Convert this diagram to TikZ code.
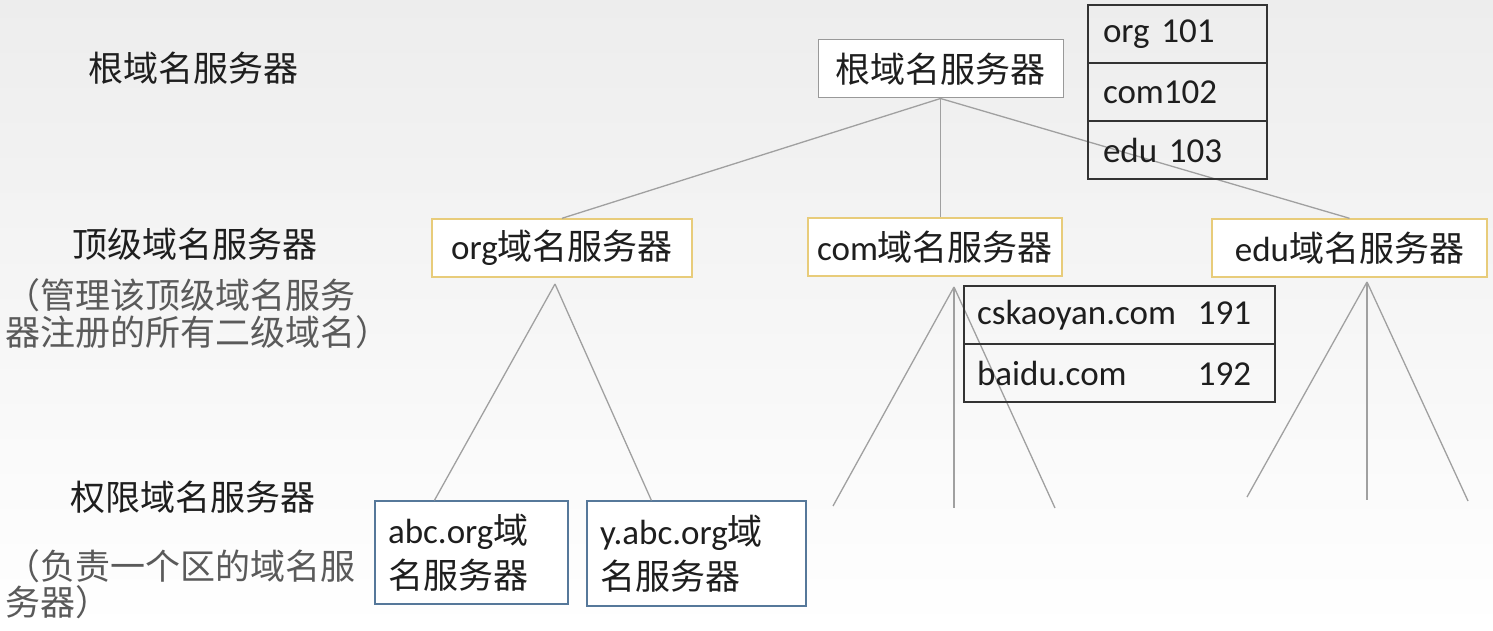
\documentclass[tikz,border=0pt]{standalone}
\usepackage{fontspec}
\setmainfont{Carlito}
\newfontfamily\cjk{Noto Sans CJK SC}
\usetikzlibrary{calc}
\definecolor{bgtop}{HTML}{EDEDED}
\definecolor{linegray}{HTML}{A0A0A0}
\definecolor{gold}{HTML}{E8CC7A}
\definecolor{steel}{HTML}{56789A}
\definecolor{txt}{HTML}{1E1E1E}
\definecolor{subtxt}{HTML}{5A5A5A}
\tikzset{
  conn/.style={draw=linegray, line width=1.3pt},
  rootbox/.style={draw=gray!80, line width=1pt, fill=white, minimum width=245pt, minimum height=58pt, inner sep=0pt, text=txt},
  tldbox/.style={draw=gold, line width=1.4pt, fill=white, minimum height=58pt, inner sep=0pt, text=txt},
  authbox/.style={draw=steel, line width=1.2pt, fill=white, inner xsep=13pt, inner ysep=0pt, align=left, text=txt},
  tblrow/.style={draw=black!80, line width=1.5pt, minimum height=58pt, inner xsep=15pt, inner ysep=0pt, align=left, text=txt},
  lbl/.style={inner sep=0pt, text=txt, anchor=west},
  sublbl/.style={inner sep=0pt, text=subtxt, anchor=west},
}
\begin{document}
\begin{tikzpicture}[x=1pt,y=-1pt, font=\fontsize{35}{45}\selectfont]
\useasboundingbox (0,0) rectangle (1493,631);
\shade[top color=bgtop, bottom color=white] (0,0) rectangle (1493,631);

% left labels
\node[lbl] (l1) at (88,68) {\cjk 根域名服务器};
\node[lbl] (l2) at (72,244) {\cjk 顶级域名服务器};
\node[sublbl] (l3) at (5,295) {\cjk （管理该顶级域名服务};
\node[sublbl] (l4) at (5,332) {\cjk 器注册的所有二级域名）};
\node[lbl] (l5) at (70,497) {\cjk 权限域名服务器};
\node[sublbl] (l6) at (5,566) {\cjk （负责一个区的域名服};
\node[sublbl] (l7) at (5,602) {\cjk 务器）};

% free ends of the connectors
\coordinate (oa) at (555,284);
\coordinate (ca) at (954,287);
\coordinate (ea) at (1367,282);
\coordinate (c1) at (833,506);
\coordinate (c2) at (954,508);
\coordinate (c3) at (1055,508);
\coordinate (e1) at (1247,497);
\coordinate (e2) at (1367,500);
\coordinate (e3) at (1468,501);

% root
\node[rootbox] (root) at (940.5,69) {\cjk 根域名服务器};

% top level domain servers
\node[tldbox, minimum width=260pt] (org) at (562,248) {org{\cjk 域名服务器}};
\node[tldbox, minimum width=254pt] (com) at (935,247) {com{\cjk 域名服务器}};
\node[tldbox, minimum width=275pt] (edu) at (1349.5,248) {edu{\cjk 域名服务器}};

% authoritative servers
\node[authbox, text width=167pt, minimum height=103pt] (abc) at (471.5,552.5) {abc.org{\cjk 域}\\{\cjk 名服务器}};
\node[authbox, text width=193pt, minimum height=105pt] (yabc) at (696.5,553.5) {y.abc.org{\cjk 域}\\{\cjk 名服务器}};

% connectors
\draw[conn] (root.south) -- (org.north);
\draw[conn] (root.south) -- (root.south |- com.north);
\draw[conn] (root.south) -- (edu.north);
\draw[conn] (oa) -- ($(abc.north west)+(60,0)$);
\draw[conn] (oa) -- ($(yabc.north west)+(65,0)$);
\draw[conn] (ca) -- (c1);
\draw[conn] (ca) -- (c2);
\draw[conn] (ca) -- (c3);
\draw[conn] (ea) -- (e1);
\draw[conn] (ea) -- (e2);
\draw[conn] (ea) -- (e3);

% root table
\node[tblrow, text width=149pt] (t1) at (1177.5,34) {org 101};
\node[tblrow, text width=149pt] (t2) at (1177.5,92) {com102};
\node[tblrow, text width=149pt] (t3) at (1177.5,150) {edu 103};

% com table
\node[tblrow, inner xsep=13pt, text width=285pt] (s1) at (1119.5,315) {\makebox[221pt][l]{cskaoyan.com}191};
\node[tblrow, inner xsep=13pt, text width=285pt] (s2) at (1119.5,373) {\makebox[221pt][l]{baidu.com}192};
\end{tikzpicture}
\end{document}
